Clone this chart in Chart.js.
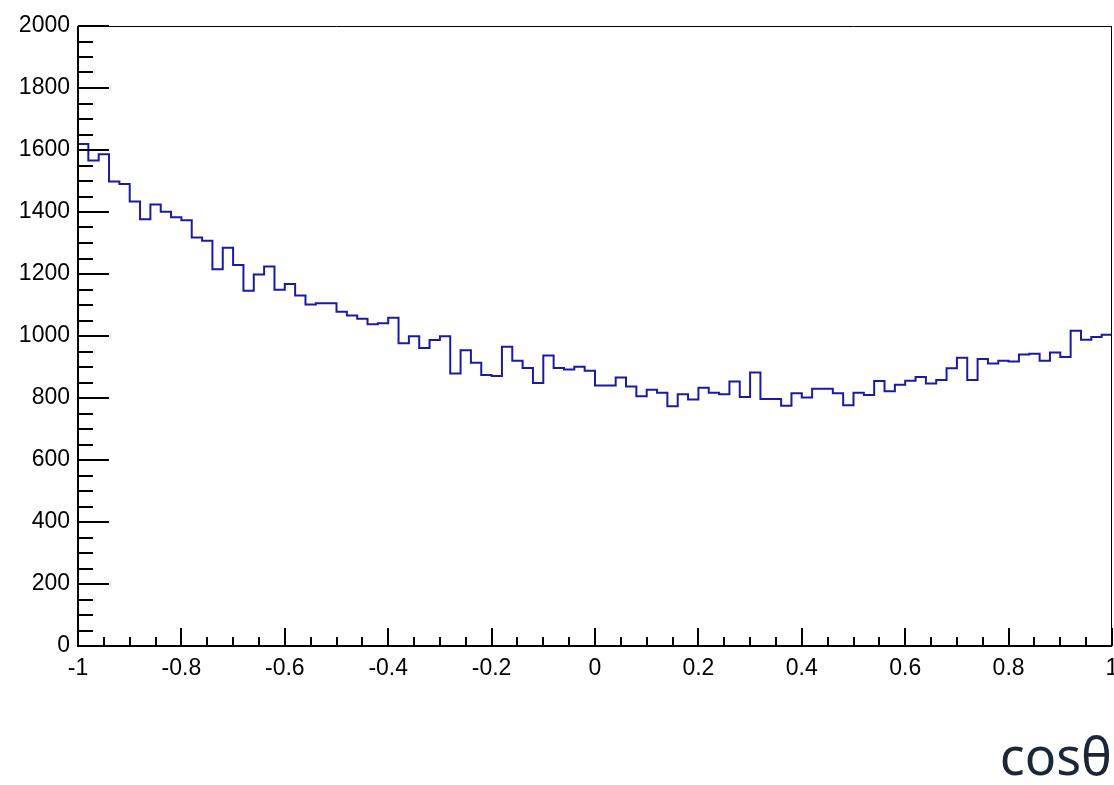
<!DOCTYPE html>
<html>
<head>
<meta charset="utf-8">
<script src="https://cdn.jsdelivr.net/npm/chart.js@4/dist/chart.umd.min.js"></script>
<style>
  html, body { margin: 0; padding: 0; background: #ffffff; }
  canvas { display: block; }
</style>
</head>
<body>
<canvas id="histo" width="1114" height="785"></canvas>
<script>
// histogram range and bin contents (100 bins)
const X_MIN = -1;
const X_MAX = 1;
const counts = [
  1619, 1566, 1586, 1498, 1490, 1434, 1377, 1424, 1401, 1383,
  1373, 1318, 1307, 1215, 1285, 1229, 1146, 1198, 1224, 1149,
  1168, 1131, 1102, 1106, 1106, 1078, 1066, 1056, 1038, 1041,
  1059, 977, 999, 961, 987, 999, 879, 954, 914, 874,
  871, 965, 920, 897, 848, 937, 897, 892, 901, 888,
  840, 840, 866, 837, 806, 827, 817, 773, 812, 795,
  833, 817, 812, 853, 803, 882, 797, 797, 775, 815,
  802, 830, 830, 815, 777, 817, 810, 855, 822, 843,
  856, 868, 847, 858, 896, 930, 858, 926, 911, 920,
  918, 940, 943, 920, 947, 932, 1017, 988, 997, 1004
];
const xTickLabels = ['-1', '-0.8', '-0.6', '-0.4', '-0.2', '0', '0.2', '0.4', '0.6', '0.8', '1'];
const yTickLabels = ['0', '200', '400', '600', '800', '1000', '1200', '1400', '1600', '1800', '2000'];
const axisTitle = 'cosθ';

const LINE_COLOR = '#1a1aa6';

// left edge of every bin, plus a closing point at the right end
const binWidth = (X_MAX - X_MIN) / counts.length;
const points = counts.map((v, i) => ({ x: X_MIN + i * binWidth, y: v }));
points.push({ x: X_MAX, y: counts[counts.length - 1] });

// ROOT-like frame with ticks drawn on the inside
const frameTicks = {
  id: 'frameTicks',
  afterDatasetsDraw(chart) {
    const { ctx, chartArea: a, scales } = chart;
    const xs = scales.x, ys = scales.y;
    ctx.save();
    ctx.strokeStyle = '#000000';

    ctx.lineWidth = 1;
    ctx.beginPath();
    ctx.moveTo(a.left, a.top + 0.5);
    ctx.lineTo(a.right, a.top + 0.5);
    ctx.moveTo(a.right - 0.5, a.top);
    ctx.lineTo(a.right - 0.5, a.bottom);
    ctx.stroke();

    ctx.lineWidth = 2;
    ctx.beginPath();
    ctx.moveTo(a.left, a.top);
    ctx.lineTo(a.left, a.bottom);
    ctx.lineTo(a.right, a.bottom);
    ctx.stroke();

    ctx.beginPath();
    for (let v = 0; v <= 2000; v += 50) {
      const y = Math.round(ys.getPixelForValue(v));
      const len = v % 200 === 0 ? 31 : 15;
      ctx.moveTo(a.left, y);
      ctx.lineTo(a.left + len, y);
    }
    for (let k = 0; k <= 40; k++) {
      const x = Math.round(xs.getPixelForValue(X_MIN + k * 0.05));
      const len = k % 4 === 0 ? 18 : 9;
      ctx.moveTo(x, a.bottom);
      ctx.lineTo(x, a.bottom - len);
    }
    ctx.stroke();
    ctx.restore();
  }
};

new Chart(document.getElementById('histo'), {
  type: 'line',
  data: {
    datasets: [{
      data: points,
      stepped: true,
      borderColor: LINE_COLOR,
      borderWidth: 2,
      pointRadius: 0,
      fill: false
    }]
  },
  options: {
    responsive: false,
    animation: false,
    layout: { padding: { top: 26, right: 2, left: 0, bottom: 0 } },
    plugins: {
      legend: { display: false },
      tooltip: { enabled: false }
    },
    scales: {
      x: {
        type: 'linear',
        min: X_MIN,
        max: X_MAX,
        grid: { display: false, drawTicks: false },
        border: { display: false },
        ticks: {
          stepSize: 0.2,
          padding: 9,
          maxRotation: 0,
          color: '#000000',
          font: { family: 'Liberation Sans', size: 23 },
          callback: (v, i) => xTickLabels[i]
        },
        title: {
          display: true,
          text: axisTitle,
          align: 'end',
          color: '#1b2636',
          font: { family: 'Noto Sans', size: 52 },
          padding: { top: 0, bottom: -6 }
        },
        afterFit: (s) => {
          s.height = 139;
          // let the last label run off the edge like the original
          s.paddingLeft = 0;
          s.paddingRight = 0;
        }
      },
      y: {
        min: 0,
        max: 2000,
        grid: { display: false, drawTicks: false },
        border: { display: false },
        ticks: {
          stepSize: 200,
          padding: 8,
          color: '#000000',
          font: { family: 'Liberation Sans', size: 23 },
          callback: (v, i) => yTickLabels[i]
        },
        afterFit: (s) => { s.width = 78; }
      }
    }
  },
  plugins: [frameTicks]
});
</script>
</body>
</html>
